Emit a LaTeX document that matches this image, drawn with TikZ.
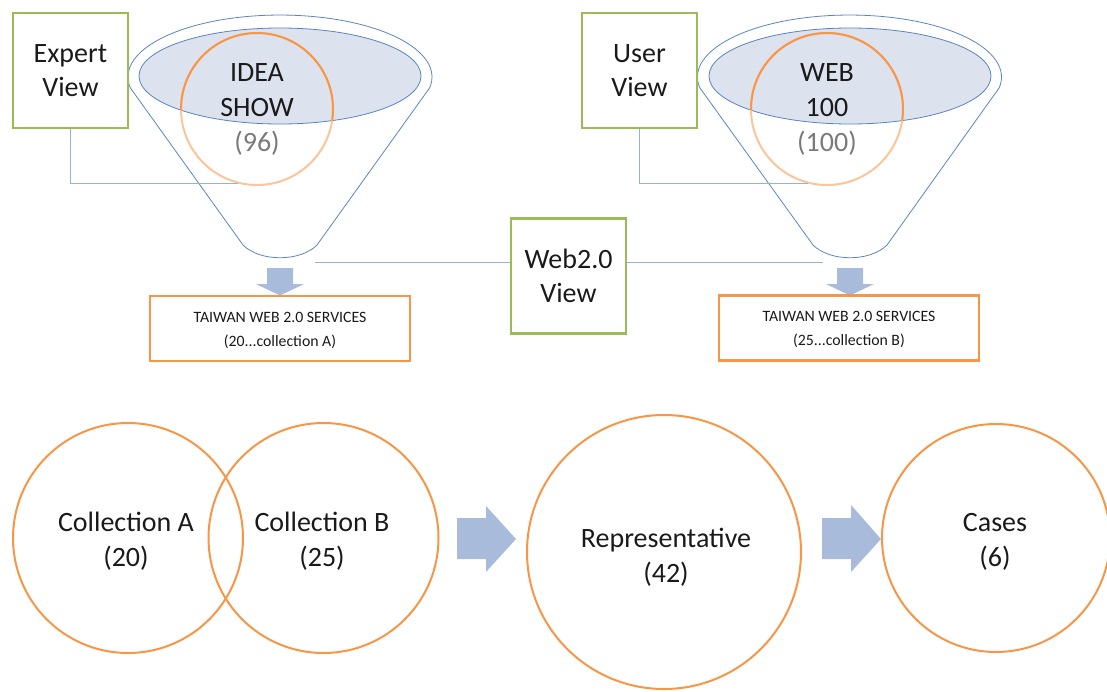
\documentclass[tikz,border=0pt]{standalone}
\usepackage{fontspec}
\setmainfont{Carlito}
\definecolor{orangec}{HTML}{F79646}
\definecolor{greenc}{HTML}{9BBB59}
\definecolor{funnelc}{HTML}{5B84BE}
\definecolor{linec}{HTML}{95B3D7}
\definecolor{ellfill}{HTML}{DCE2EE}
\definecolor{arrowc}{HTML}{A9BBDB}
\definecolor{numgray}{HTML}{7A7A7A}
\definecolor{txt}{HTML}{1A1A1A}
\begin{document}
\begin{tikzpicture}[x=1pt,y=-1pt,
  viewbox/.style={draw=greenc, line width=2.5pt, minimum width=115pt, minimum height=115pt, inner sep=0pt, align=center, text=txt, font=\fontsize{28}{34}\selectfont},
  svcbox/.style={draw=orangec, line width=2.5pt, minimum width=260pt, minimum height=65pt, inner sep=0pt, align=center, text=txt, font=\fontsize{15.8}{24}\selectfont},
  ring/.style={draw=orangec, line width=2pt, circle, inner sep=0pt, align=center, text=txt, font=\fontsize{28}{34}\selectfont},
  ringtext/.style={inner sep=0pt, align=center, text=txt, font=\fontsize{28}{35}\selectfont},
  conn/.style={draw=linec, line width=1.2pt},
  funnel/.style={draw=funnelc, line width=0.8pt},
  blockarrow/.style={fill=arrowc, draw=none}]
\useasboundingbox (0,0) rectangle (1107,691);

% ---------- left funnel ----------
\draw[funnel] (130.3,87.8) arc[start angle=170, end angle=370, x radius=152, y radius=62]
  -- (317,245) .. controls (300,262) and (260,262) .. (243,245) -- cycle;
\draw[funnel, fill=ellfill] (280,76) ellipse[x radius=141, y radius=48];
\node[ring, draw=orangec!55, minimum size=152pt] (idea) at (257,109) {};
\node[ringtext] (ideat) at (257,109.5) {IDEA\\SHOW\\{\color{numgray}(96)}};
\begin{scope}
  \clip (280,76) ellipse[x radius=141, y radius=48];
  \draw[orangec, line width=2pt] (257,109) circle[radius=76];
\end{scope}

% ---------- right funnel ----------
\draw[funnel] (699.8,87.8) arc[start angle=170, end angle=370, x radius=152, y radius=62]
  -- (887,245) .. controls (870,262) and (830,262) .. (813,245) -- cycle;
\draw[funnel, fill=ellfill] (850,76) ellipse[x radius=141, y radius=48];
\node[ring, draw=orangec!55, minimum size=152pt] (webc) at (827,109) {};
\node[ringtext] (webt) at (827,109.5) {WEB\\100\\{\color{numgray}(100)}};
\begin{scope}
  \clip (850,76) ellipse[x radius=141, y radius=48];
  \draw[orangec, line width=2pt] (827,109) circle[radius=76];
\end{scope}

% ---------- view boxes ----------
\node[viewbox] (expert) at (70.5,70.5) {Expert\\View};
\node[viewbox] (user) at (639.5,70.5) {User\\View};
\node[viewbox] (web) at (568.5,276) {Web2.0\\View};

\draw[conn] (expert.south) |- (idea.-104);
\draw[conn] (user.south) |- (webc.-104);

\coordinate (wl) at (315,262.5);
\coordinate (wr) at (823,262.5);
\draw[conn] (wl) -- (wl -| web.west);
\draw[conn] (wr -| web.east) -- (wr);

% ---------- down arrows ----------
\fill[blockarrow] (267,268) -- (293,268) -- (293,284) -- (304,284) -- (280,295.5) -- (256,284) -- (267,284) -- cycle;
\fill[blockarrow] (837,268) -- (863,268) -- (863,284) -- (874,284) -- (850,295.5) -- (826,284) -- (837,284) -- cycle;

% ---------- service boxes ----------
\node[svcbox] (svcA) at (280,328.5) {};
\node[svcbox, draw=none] (svcAt) at (280,330) {TAIWAN WEB 2.0 SERVICES\\(20...collection A)};
\node[svcbox] (svcB) at (849,328) {};
\node[svcbox, draw=none] (svcBt) at (849,329.5) {TAIWAN WEB 2.0 SERVICES\\(25...collection B)};

% ---------- bottom row ----------
\node[ring, minimum size=230pt] (colA) at (128,538) {};
\node[ringtext] (colAt) at (126,541.5) {Collection A\\(20)};
\node[ring, minimum size=230pt] (colB) at (323.5,538) {};
\node[ringtext] (colBt) at (322,541.5) {Collection B\\(25)};
\node[ring, minimum size=274pt] (rep) at (664,552) {};
\node[ringtext] (rept) at (666,557) {Representative\\(42)};
\node[ring, minimum size=228pt] (cases) at (996,538) {};
\node[ringtext] (casest) at (995,541.5) {Cases\\(6)};

\fill[blockarrow] (457,518) -- (486,518) -- (486,506) -- (516,539) -- (486,572) -- (486,559) -- (457,559) -- cycle;
\fill[blockarrow] (822,518) -- (851,518) -- (851,505) -- (881,539) -- (851,572) -- (851,559) -- (822,559) -- cycle;
\end{tikzpicture}
\end{document}
